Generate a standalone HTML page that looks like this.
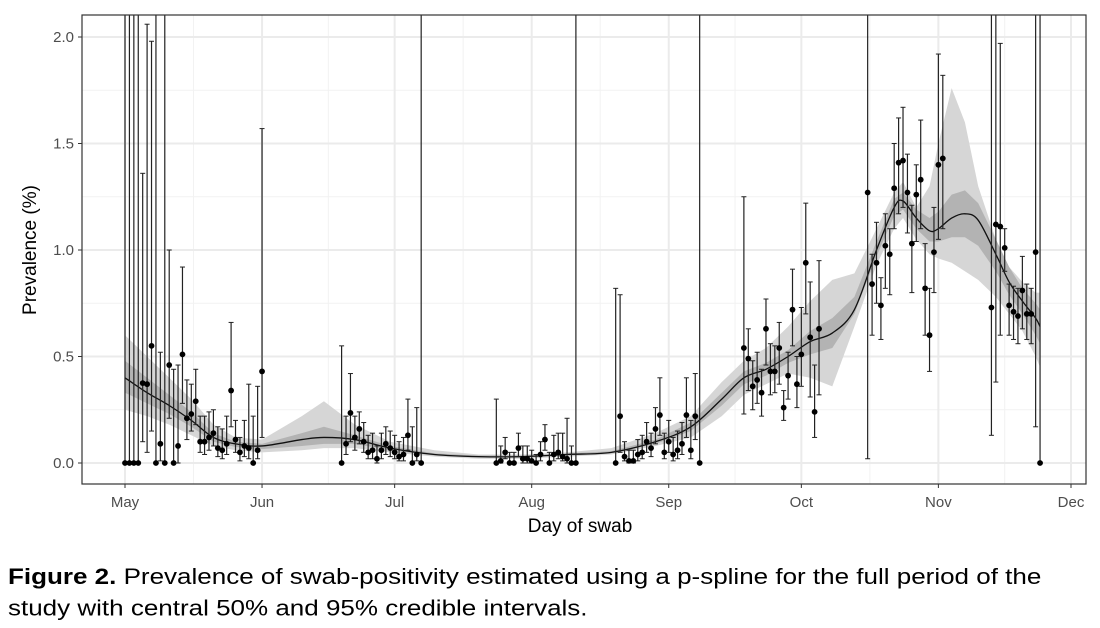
<!DOCTYPE html>
<html><head><meta charset="utf-8"><style>
body{margin:0;background:#fff;width:1100px;height:628px;overflow:hidden;font-family:"Liberation Sans",Arial,sans-serif}
svg text{font-family:"Liberation Sans",Arial,sans-serif}
.cap{position:absolute;left:8px;top:561px;font-size:26px;line-height:36.5px;color:#000;width:1090px;white-space:nowrap;transform:scaleY(0.85);transform-origin:0 0}
</style></head><body>
<svg id="chart" width="1100" height="560" style="position:absolute;left:0;top:0"></svg>
<div class="cap"><b>Figure 2.</b> Prevalence of swab-positivity estimated using a p-spline for the full period of the<br>study with central 50% and 95% credible intervals.</div>
<script>
// observations: day since May 1, value (%), lower, upper
const obsDay=[0,1,2,3,4,5,6,7,8,9,10,11,12,13,14,15,16,17,18,19,20,21,22,23,24,25,26,27,28,29,30,31,
49,50,51,52,53,54,55,56,57,58,59,60,61,62,63,64,65,66,67,
84,85,86,87,88,89,90,91,92,93,94,95,96,97,98,99,100,101,102,
111,112,113,114,115,116,117,118,119,120,121,122,123,124,125,126,127,128,129,130,
140,141,142,143,144,145,146,147,148,149,150,151,152,153,154,155,156,157,
168,169,170,171,172,173,174,175,176,177,178,179,180,181,182,183,184,185,
196,197,198,199,200,201,202,203,204,205,206,207];
const obsVal=[0,0,0,0,0.375,0.37,0.55,0,0.09,0,0.46,0,0.08,0.51,0.21,0.23,0.29,0.10,0.10,0.12,0.14,0.07,0.06,0.09,0.34,0.11,0.05,0.08,0.07,0,0.06,0.43,
0,0.09,0.235,0.12,0.16,0.10,0.05,0.06,0.02,0.06,0.09,0.07,0.05,0.03,0.04,0.13,0,0.04,0,
0,0.01,0.05,0,0,0.07,0.02,0.02,0.01,0,0.04,0.11,0,0.04,0.05,0.03,0.02,0,0,
0,0.22,0.03,0.01,0.01,0.04,0.05,0.10,0.07,0.16,0.225,0.05,0.10,0.04,0.06,0.09,0.225,0.06,0.22,0,
0.54,0.49,0.36,0.39,0.33,0.63,0.43,0.43,0.54,0.26,0.41,0.72,0.37,0.51,0.94,0.59,0.24,0.63,
1.27,0.84,0.94,0.74,1.02,0.98,1.29,1.41,1.42,1.27,1.03,1.26,1.33,0.82,0.60,0.99,1.40,1.43,
0.73,1.12,1.11,1.01,0.74,0.71,0.69,0.81,0.70,0.70,0.99,0];
const obsLo=[0,0,0,0,0.10,0.05,0.15,0,0.01,0,0.21,0,0,0.28,0.11,0.15,0.18,0.05,0.04,0.06,0.08,0.03,0.02,0.04,0.17,0.05,0.01,0.03,0.02,0,0.02,0.12,
0,0.04,0.10,0.06,0.09,0.05,0.02,0.02,0,0.02,0.04,0.03,0.02,0.01,0.01,0.06,0,0.01,0,
0,0,0.02,0,0,0.03,0,0,0,0,0.01,0.06,0,0.01,0.02,0.01,0,0,0,
0,0.05,0.01,0,0,0.01,0.02,0.05,0.03,0.09,0.13,0.02,0.05,0.01,0.02,0.04,0.12,0.02,0.11,0,
0.23,0.34,0.25,0.28,0.22,0.46,0.32,0.33,0.37,0.20,0.30,0.55,0.26,0.36,0.70,0.31,0.12,0.32,
0.02,0.60,0.75,0.58,0.82,0.79,1.10,1.17,1.20,1.08,0.80,1.04,1.10,0.60,0.43,0.80,1.05,1.10,
0.13,0.38,0.60,0.90,0.60,0.58,0.56,0.63,0.58,0.56,0.17,0];
const obsHi=[2.2,2.2,2.2,2.2,1.36,2.06,1.98,2.2,0.52,2.2,1.00,0.44,0.46,0.92,0.39,0.37,0.44,0.22,0.22,0.24,0.25,0.17,0.16,0.22,0.66,0.20,0.12,0.20,0.37,0.22,0.36,1.57,
0.55,0.22,0.42,0.22,0.24,0.19,0.13,0.14,0.08,0.14,0.17,0.15,0.13,0.10,0.12,0.30,0.17,0.26,2.2,
0.30,0.08,0.12,0.05,0.05,0.14,0.08,0.08,0.06,0.04,0.10,0.18,0.05,0.13,0.14,0.14,0.21,0.08,2.2,
0.82,0.79,0.10,0.06,0.06,0.11,0.13,0.19,0.14,0.26,0.40,0.14,0.20,0.12,0.15,0.19,0.40,0.20,0.42,2.2,
1.25,0.63,0.48,0.52,0.44,0.77,0.56,0.55,0.66,0.34,0.52,0.91,0.50,0.73,1.22,0.85,0.46,0.95,
2.2,0.98,1.13,0.87,1.17,1.10,1.50,1.62,1.67,1.45,1.21,1.40,1.61,1.03,0.82,1.20,1.92,1.82,
2.2,2.2,1.97,1.10,0.84,0.83,0.82,0.97,0.84,0.82,2.2,2.2];
// fitted spline and credible intervals
const fitDay=[0,5,10,15,20,25,31,40,45,52,60,70,80,90,100,110,120,128,135,140,145,150,155,160,165,170,174,176,179,182,184,187,190,193,197,200,203,206,207];
const fitMean=[0.40,0.33,0.27,0.20,0.12,0.09,0.08,0.11,0.12,0.11,0.07,0.04,0.03,0.03,0.04,0.05,0.10,0.17,0.30,0.40,0.44,0.50,0.57,0.61,0.72,1.00,1.20,1.23,1.15,1.09,1.10,1.15,1.17,1.14,0.98,0.85,0.76,0.68,0.64];
const lo95=[0.25,0.22,0.18,0.13,0.08,0.06,0.05,0.06,0.07,0.07,0.05,0.03,0.02,0.02,0.03,0.04,0.08,0.12,0.22,0.32,0.37,0.42,0.40,0.36,0.64,0.93,1.10,1.15,1.05,0.98,0.96,0.94,0.90,0.86,0.78,0.70,0.62,0.50,0.45];
const hi95=[0.60,0.50,0.40,0.30,0.18,0.12,0.11,0.22,0.29,0.18,0.10,0.06,0.04,0.04,0.05,0.07,0.14,0.22,0.38,0.48,0.54,0.64,0.76,0.86,0.89,1.10,1.27,1.32,1.20,1.30,1.50,1.76,1.60,1.30,1.05,0.92,0.85,0.80,0.80];
const lo50=[0.33,0.28,0.23,0.17,0.10,0.075,0.065,0.08,0.09,0.09,0.06,0.035,0.025,0.025,0.035,0.045,0.09,0.15,0.27,0.37,0.41,0.47,0.51,0.54,0.70,0.97,1.16,1.19,1.10,1.04,1.04,1.06,1.06,1.02,0.90,0.79,0.70,0.60,0.56];
const hi50=[0.48,0.40,0.32,0.24,0.14,0.10,0.09,0.14,0.17,0.13,0.08,0.045,0.035,0.035,0.045,0.055,0.11,0.19,0.33,0.43,0.47,0.53,0.62,0.68,0.78,1.04,1.24,1.27,1.19,1.15,1.18,1.26,1.28,1.22,1.05,0.92,0.82,0.75,0.72];
const yTicks=[0,0.5,1.0,1.5,2.0];
const yTickLabels=["0.0","0.5","1.0","1.5","2.0"];
const xTickDays=[0,31,61,92,123,153,184,214];
const xTickLabels=["May","Jun","Jul","Aug","Sep","Oct","Nov","Dec"];

const NS="http://www.w3.org/2000/svg";
const svg=document.getElementById('chart');
const L=82,R=1086,T=15,B=484;
const xs=d=>125+d*(1071-125)/214;
const ys=v=>463-v*(463-37)/2;
function mk(tag,attrs,parent){const e=document.createElementNS(NS,tag);for(const k in attrs)e.setAttribute(k,attrs[k]);(parent||svg).appendChild(e);return e;}
const clip=mk('clipPath',{id:'pc'});mk('rect',{x:L,y:T,width:R-L,height:B-T},clip);
// grid
const grid=mk('g',{});


for(let v=0.25;v<2.2;v+=0.5)mk('line',{x1:L,x2:R,y1:ys(v),y2:ys(v),stroke:'#f2f2f2','stroke-width':1},grid);
for(let i=0;i<xTickDays.length-1;i++){const m=(xTickDays[i]+xTickDays[i+1])/2;mk('line',{x1:xs(m),x2:xs(m),y1:T,y2:B,stroke:'#f2f2f2','stroke-width':1},grid);}
yTicks.forEach(v=>mk('line',{x1:L,x2:R,y1:ys(v),y2:ys(v),stroke:'#ebebeb','stroke-width':2},grid));
xTickDays.forEach(d=>mk('line',{x1:xs(d),x2:xs(d),y1:T,y2:B,stroke:'#ebebeb','stroke-width':2},grid));
const g=mk('g',{'clip-path':'url(#pc)'});
function band(lo,hi,fill,name){let p='';fitDay.forEach((d,i)=>p+=(i?'L':'M')+xs(d)+','+ys(hi[i]));for(let i=fitDay.length-1;i>=0;i--)p+='L'+xs(fitDay[i])+','+ys(lo[i]);const e=mk('path',{d:p+'Z',fill:fill},g);

}
band(lo95,hi95,'#d6d6d6','ci-95-band');
band(lo50,hi50,'#b3b3b3','ci-50-band');
// smooth mean line (Catmull-Rom)
const pts=fitDay.map((d,i)=>[xs(d),ys(fitMean[i])]);
let dp='M'+pts[0];
for(let i=0;i<pts.length-1;i++){const p0=pts[Math.max(0,i-1)],p1=pts[i],p2=pts[i+1],p3=pts[Math.min(pts.length-1,i+2)];
dp+='C'+(p1[0]+(p2[0]-p0[0])/6)+','+(p1[1]+(p2[1]-p0[1])/6)+' '+(p2[0]-(p3[0]-p1[0])/6)+','+(p2[1]-(p3[1]-p1[1])/6)+' '+p2[0]+','+p2[1];}
const ml=mk('path',{d:dp,fill:'none',stroke:'#111','stroke-width':1.3},g);


// error bars and points
obsDay.forEach((d,i)=>{const x=xs(d);const eg=mk('g',{},g);


mk('line',{x1:x,x2:x,y1:ys(obsLo[i]),y2:ys(obsHi[i]),stroke:'#222','stroke-width':1.2},eg);
mk('line',{x1:x-2.5,x2:x+2.5,y1:ys(obsLo[i]),y2:ys(obsLo[i]),stroke:'#222','stroke-width':1},eg);
mk('line',{x1:x-2.5,x2:x+2.5,y1:ys(obsHi[i]),y2:ys(obsHi[i]),stroke:'#222','stroke-width':1},eg);
mk('circle',{cx:x,cy:ys(obsVal[i]),r:2.9,fill:'#000'},eg);});
// panel border
const pb=mk('rect',{x:L,y:T,width:R-L,height:B-T,fill:'none',stroke:'#333','stroke-width':1.2});


// axes labels
yTicks.forEach((v,i)=>{mk('line',{x1:L-4,x2:L,y1:ys(v),y2:ys(v),stroke:'#333'});const t=mk('text',{x:L-8,y:ys(v)+5,'text-anchor':'end','font-size':15,fill:'#4d4d4d'});t.textContent=yTickLabels[i];

});
xTickDays.forEach((d,i)=>{mk('line',{x1:xs(d),x2:xs(d),y1:B,y2:B+4,stroke:'#333'});const t=mk('text',{x:xs(d),y:B+23,'text-anchor':'middle','font-size':15,fill:'#4d4d4d'});t.textContent=xTickLabels[i];

});
const xt=mk('text',{x:580,y:532,'text-anchor':'middle','font-size':19,fill:'#000'});xt.textContent='Day of swab';


const yt=mk('text',{x:36,y:250,'text-anchor':'middle','font-size':19,fill:'#000',transform:'rotate(-90 36 250)'});yt.textContent='Prevalence (%)';


</script>
</body></html>
